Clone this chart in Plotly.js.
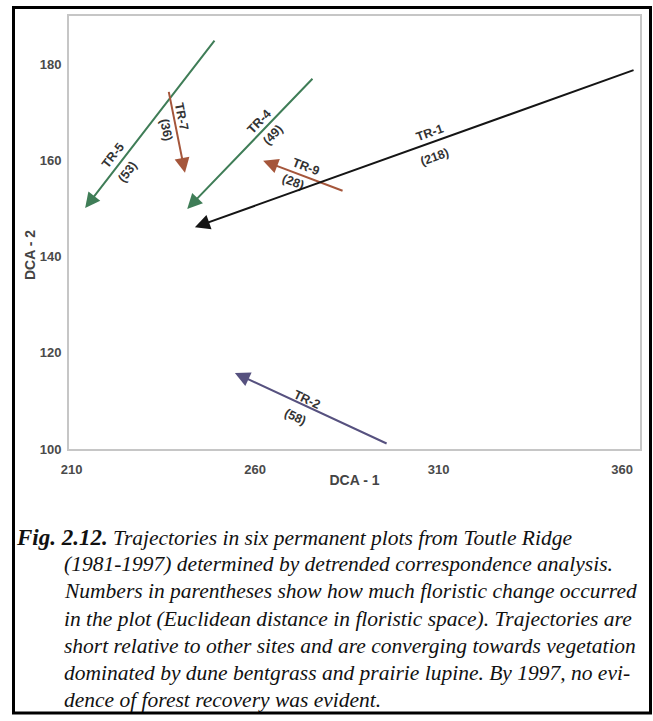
<!DOCTYPE html>
<html>
<head>
<meta charset="utf-8">
<script src="https://cdn.plot.ly/plotly-3.0.1.min.js"></script>
<style>
  html, body { margin: 0; padding: 0; background: #ffffff; }
  #chart { width: 653px; height: 721px; }
</style>
</head>
<body>
<div id="chart"></div>
<script>
// ---- data ----
const plotNames = ['TR-5', 'TR-7', 'TR-4', 'TR-9', 'TR-1', 'TR-2'];
const floristicChange = [53, 36, 49, 28, 218, 58];
// trajectory start (1981) and end (1997) in DCA space
const startDCA1 = [249.9, 236.0, 276.6, 284.8, 364.1, 296.8];
const startDCA2 = [185.8, 176.1, 177.7, 153.4, 179.0, 100.8];
const endDCA1 = [213.7, 240.9, 241.5, 262.2, 243.6, 254.5];
const endDCA2 = [150.1, 157.4, 149.9, 159.9, 146.1, 115.8];
const xTickVals = [210, 260, 310, 360];
const yTickVals = [100, 120, 140, 160, 180];

const captionLines = [
  '<span style="font-size:23px"><b>Fig. 2.12.</b></span> Trajectories in six permanent plots from Toutle Ridge',
  '(1981-1997) determined by detrended correspondence analysis.',
  'Numbers in parentheses show how much floristic change occurred',
  'in the plot (Euclidean distance in floristic space). Trajectories are',
  'short relative to other sites and are converging towards vegetation',
  'dominated by dune bentgrass and prairie lupine. By 1997, no evi-',
  'dence of forest recovery was evident.'
];

// ---- styles / layout constants ----
const W = 653, H = 721;
const M = { l: 69, r: 13, t: 16, b: 272 };
const plotW = W - M.l - M.r, plotH = H - M.t - M.b;
const xRange = [209.3, 364.9], yRange = [100, 190];
const colors = ['#3f7d57', '#a5563b', '#3f7d57', '#a5563b', '#151515', '#56517f'];
// label placement: distance along the arrow from its start (px) and perpendicular offset (px)
const nameAlong = [158, 36, 73, 46, 217, 94];
const namePerp = [-10, 8, -9, -9.4, -9.5, -6];
const numAlong = [163, 46, 73, 53, 220, 98];
const numPerp = [12, -10, 10.6, 9.2, 14.8, 14.6];

const pxX = plotW / (xRange[1] - xRange[0]);
const pxY = plotH / (yRange[1] - yRange[0]);
const paperX = px => (px - M.l) / plotW;
const paperY = py => (H - M.b - py) / plotH;

const sans = 'Liberation Sans, Arial, sans-serif';
const labelFont = { family: sans, size: 12.5, color: '#333333', weight: 'bold' };
const annotations = [];

plotNames.forEach((name, i) => {
  // arrow
  annotations.push({
    x: endDCA1[i], y: endDCA2[i], xref: 'x', yref: 'y',
    ax: startDCA1[i], ay: startDCA2[i], axref: 'x', ayref: 'y',
    showarrow: true, arrowhead: 2, arrowsize: 1.5, arrowwidth: 2,
    arrowcolor: colors[i], standoff: 0, startstandoff: 0
  });
  // screen-space direction
  const dx = (endDCA1[i] - startDCA1[i]) * pxX;
  const dy = -(endDCA2[i] - startDCA2[i]) * pxY;
  const len = Math.hypot(dx, dy);
  const ux = dx / len, uy = dy / len;
  const nx = uy, ny = -ux;
  let bx = ux, by = uy;
  if (bx < 0) { bx = -bx; by = -by; }
  const ang = Math.atan2(by, bx) * 180 / Math.PI;
  const place = (along, perp, text) => {
    const sx = along * ux + perp * nx;
    const sy = along * uy + perp * ny;
    annotations.push({
      x: startDCA1[i], y: startDCA2[i], xref: 'x', yref: 'y',
      xshift: sx, yshift: -sy, text: text, showarrow: false,
      textangle: ang, xanchor: 'center', yanchor: 'middle', font: labelFont
    });
  };
  place(nameAlong[i], namePerp[i], name);
  place(numAlong[i], numPerp[i], '(' + floristicChange[i] + ')');
});

// y-axis title (placed like the original, left of the tick labels)
annotations.push({
  xref: 'paper', yref: 'paper', x: paperX(30), y: paperY(255),
  xanchor: 'center', yanchor: 'middle', textangle: -90, showarrow: false,
  text: 'DCA - 2', font: { family: sans, size: 14, color: '#444444', weight: 'bold' }
});

// caption
const capTop = 537, capStep = 27.2;
captionLines.forEach((line, k) => {
  annotations.push({
    xref: 'paper', yref: 'paper',
    x: paperX(k === 0 ? 14 : 62), y: paperY(capTop + k * capStep),
    xanchor: 'left', yanchor: 'middle', showarrow: false,
    text: '<i>' + line + '</i>',
    font: { family: 'Liberation Serif, Times New Roman, serif', size: 21.5, color: '#111111', weight: 'normal' }
  });
});

const axisFont = { family: sans, size: 13, color: '#4a4a4a', weight: 'bold' };

const layout = {
  width: W, height: H,
  margin: M,
  paper_bgcolor: '#ffffff', plot_bgcolor: '#ffffff',
  showlegend: false,
  font: { family: sans, size: 13, color: '#4a4a4a' },
  xaxis: {
    range: xRange, tickvals: xTickVals, ticks: '', showgrid: false, zeroline: false,
    showline: true, mirror: true, linecolor: '#c6c6c6', linewidth: 2,
    tickfont: axisFont, ticklabelstandoff: 7,
    title: { text: 'DCA - 1', font: { family: sans, size: 14, color: '#444444', weight: 'bold' }, standoff: 0 }
  },
  yaxis: {
    range: yRange, tickvals: yTickVals, ticks: '', showgrid: false, zeroline: false,
    showline: true, mirror: true, linecolor: '#c6c6c6', linewidth: 2,
    tickfont: axisFont, ticklabelstandoff: 3
  },
  annotations: annotations,
  shapes: [{
    type: 'rect', xref: 'paper', yref: 'paper', layer: 'above',
    x0: paperX(13.5), x1: paperX(650.5), y0: paperY(713), y1: paperY(7.5),
    line: { color: '#000000', width: 3 }, fillcolor: 'rgba(0,0,0,0)'
  }]
};

Plotly.newPlot('chart', [], layout, { staticPlot: true, displayModeBar: false });
</script>
</body>
</html>
